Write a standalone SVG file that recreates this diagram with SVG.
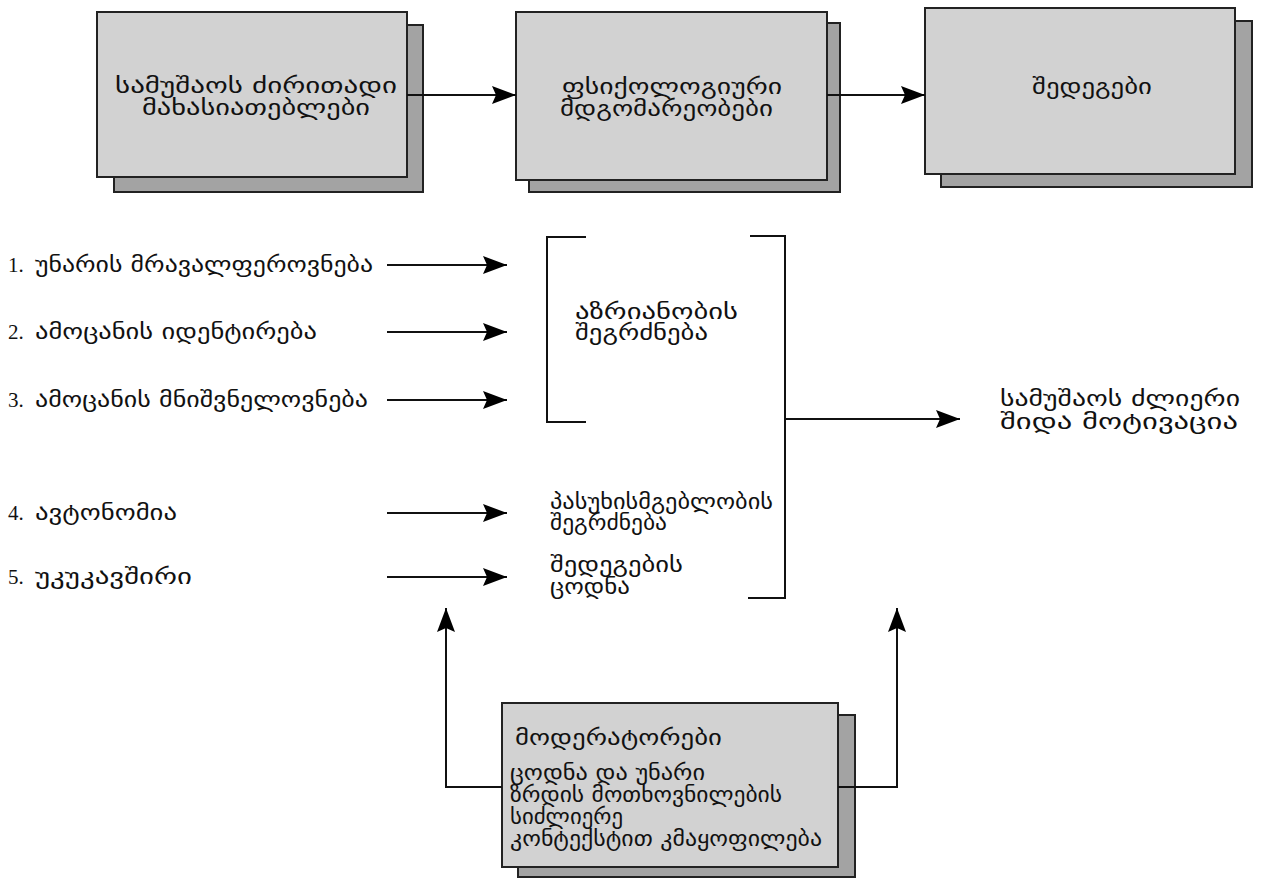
<svg xmlns="http://www.w3.org/2000/svg" width="1262" height="879" viewBox="0 0 1262 879">
  <style>
    .box { fill: #d2d2d2; stroke: #222; stroke-width: 2; }
    .shadow { fill: #a3a3a3; stroke: #222; stroke-width: 2; }
    .ka { font-family: "DejaVu Sans", "DejaVu Serif", sans-serif; fill: #111; font-size: 22px; }
    .num { font-family: "Liberation Serif", serif; fill: #111; font-size: 21px; }
    .line { stroke: #111; stroke-width: 2; fill: none; }
    .bracket { stroke: #111; stroke-width: 2; fill: none; }
  </style>
  <defs>
    <marker id="arrow" viewBox="0 0 24 18" refX="24" refY="9" markerWidth="24" markerHeight="18" markerUnits="userSpaceOnUse" orient="auto">
      <path d="M0,0 L24,9 L0,18 L4,9 Z" fill="#000"/>
    </marker>
  </defs>
  <rect width="1262" height="879" fill="#fff"/>

  <!-- top row -->
  <g id="node-job-characteristics">
    <rect class="shadow" x="114" y="25" width="309" height="167"/>
    <rect class="box" x="97" y="12" width="310" height="165"/>
    <text class="ka"><tspan x="115" y="93" textLength="282" lengthAdjust="spacingAndGlyphs">სამუშაოს ძირითადი</tspan><tspan x="142" y="115" textLength="228" lengthAdjust="spacingAndGlyphs">მახასიათებლები</tspan></text>
  </g>
  <g id="node-psych-states">
    <rect class="shadow" x="529" y="23" width="311" height="169"/>
    <rect class="box" x="516" y="12" width="311" height="168"/>
    <text class="ka"><tspan x="562" y="94" textLength="220" lengthAdjust="spacingAndGlyphs">ფსიქოლოგიური</tspan><tspan x="560" y="116" textLength="213" lengthAdjust="spacingAndGlyphs">მდგომარეობები</tspan></text>
  </g>
  <g id="node-outcomes">
    <rect class="shadow" x="941" y="21" width="311" height="166"/>
    <rect class="box" x="925" y="8" width="310" height="166"/>
    <text class="ka" x="1032" y="94" textLength="120" lengthAdjust="spacingAndGlyphs">შედეგები</text>
  </g>

  <!-- core job dimensions -->
  <g id="node-dim-1">
    <text class="num" x="8" y="272">1.</text>
    <text class="ka" x="35" y="272" textLength="338" lengthAdjust="spacingAndGlyphs">უნარის მრავალფეროვნება</text>
  </g>
  <g id="node-dim-2">
    <text class="num" x="8" y="339">2.</text>
    <text class="ka" x="35" y="339" textLength="282" lengthAdjust="spacingAndGlyphs">ამოცანის იდენტირება</text>
  </g>
  <g id="node-dim-3">
    <text class="num" x="8" y="407">3.</text>
    <text class="ka" x="35" y="407" textLength="333" lengthAdjust="spacingAndGlyphs">ამოცანის მნიშვნელოვნება</text>
  </g>
  <g id="node-dim-4">
    <text class="num" x="8" y="520">4.</text>
    <text class="ka" x="35" y="520" textLength="142" lengthAdjust="spacingAndGlyphs">ავტონომია</text>
  </g>
  <g id="node-dim-5">
    <text class="num" x="8" y="584">5.</text>
    <text class="ka" x="35" y="584" textLength="157" lengthAdjust="spacingAndGlyphs">უკუკავშირი</text>
  </g>

  <!-- critical psychological states -->
  <g id="node-meaningfulness">
    <text class="ka"><tspan x="575" y="319" textLength="163" lengthAdjust="spacingAndGlyphs">აზრიანობის</tspan><tspan x="575" y="340" textLength="133" lengthAdjust="spacingAndGlyphs">შეგრძნება</tspan></text>
  </g>
  <g id="node-responsibility">
    <text class="ka" font-size="17"><tspan x="550" y="509" textLength="223" lengthAdjust="spacingAndGlyphs">პასუხისმგებლობის</tspan><tspan x="550" y="530" textLength="117" lengthAdjust="spacingAndGlyphs">შეგრძნება</tspan></text>
  </g>
  <g id="node-knowledge">
    <text class="ka"><tspan x="550" y="572" textLength="133" lengthAdjust="spacingAndGlyphs">შედეგების</tspan><tspan x="550" y="594" textLength="80" lengthAdjust="spacingAndGlyphs">ცოდნა</tspan></text>
  </g>
  <g id="node-motivation">
    <text class="ka"><tspan x="1000" y="406" textLength="240" lengthAdjust="spacingAndGlyphs">სამუშაოს ძლიერი</tspan><tspan x="1000" y="429" textLength="238" lengthAdjust="spacingAndGlyphs">შიდა მოტივაცია</tspan></text>
  </g>

  <!-- moderators -->
  <g id="node-moderators">
    <rect class="shadow" x="518" y="715" width="337" height="162"/>
    <rect class="box" x="502" y="703" width="336" height="164"/>
    <text class="ka" x="515" y="745" font-size="23" textLength="207" lengthAdjust="spacingAndGlyphs">მოდერატორები</text>
    <text class="ka" font-size="16"><tspan x="510" y="780" textLength="195" lengthAdjust="spacingAndGlyphs">ცოდნა და უნარი</tspan><tspan x="510" y="802" textLength="272" lengthAdjust="spacingAndGlyphs">ზრდის მოთხოვნილების</tspan><tspan x="510" y="824" textLength="113" lengthAdjust="spacingAndGlyphs">სიძლიერე</tspan><tspan x="510" y="846" textLength="312" lengthAdjust="spacingAndGlyphs">კონტექსტით კმაყოფილება</tspan></text>
  </g>

  <!-- connectors -->
  <g id="connectors">
    <line class="line" x1="407" y1="95" x2="516" y2="95" marker-end="url(#arrow)"/>
    <line class="line" x1="827" y1="95" x2="925" y2="95" marker-end="url(#arrow)"/>
    <line class="line" x1="387" y1="265" x2="507" y2="265" marker-end="url(#arrow)"/>
    <line class="line" x1="387" y1="332" x2="507" y2="332" marker-end="url(#arrow)"/>
    <line class="line" x1="387" y1="400" x2="507" y2="400" marker-end="url(#arrow)"/>
    <line class="line" x1="387" y1="513" x2="507" y2="513" marker-end="url(#arrow)"/>
    <line class="line" x1="387" y1="577" x2="507" y2="577" marker-end="url(#arrow)"/>
    <polyline class="bracket" points="586,237 547,237 547,422 586,422"/>
    <polyline class="bracket" points="750,236 785,236 785,598 748,598"/>
    <line class="line" x1="785" y1="419" x2="960" y2="419" marker-end="url(#arrow)"/>
    <polyline class="line" points="502,787 446,787 446,608" marker-end="url(#arrow)"/>
    <polyline class="line" points="838,787 897,787 897,608" marker-end="url(#arrow)"/>
  </g>
</svg>
